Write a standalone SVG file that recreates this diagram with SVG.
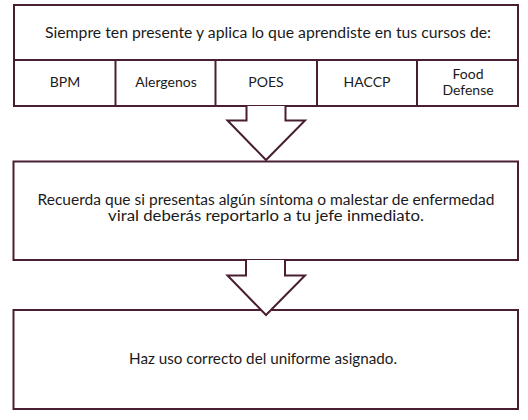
<svg xmlns="http://www.w3.org/2000/svg" width="528" height="420" viewBox="0 0 528 420">
<style>
.box{fill:#ffffff;stroke:#4a1e32;stroke-width:2}
.ln{fill:none;stroke:#4a1e32;stroke-width:2}
.arrow{fill:#ffffff;stroke:#4a1e32;stroke-width:2;stroke-linejoin:miter}
.t{font-family:Lato,"Open Sans","Liberation Sans",sans-serif;fill:#1a1a1a;text-anchor:middle}
.h{font-size:15.5px}
.c{font-size:14px}
.m{font-size:15px}
.m2{font-size:14.5px}
</style>
<rect width="528" height="420" fill="#ffffff"/>
<g id="top-box">
  <rect class="box" x="14" y="5" width="504" height="101"/>
  <line class="ln" x1="14" y1="60" x2="518" y2="60"/>
  <text class="t h" x="268" y="38" textLength="446" lengthAdjust="spacingAndGlyphs">Siempre ten presente y aplica lo que aprendiste en tus cursos de:</text>
</g>
<g id="cell-bpm">
  <line class="ln" x1="115.5" y1="60" x2="115.5" y2="106"/>
  <text class="t c" x="65" y="87">BPM</text>
</g>
<g id="cell-alergenos">
  <line class="ln" x1="215.5" y1="60" x2="215.5" y2="106"/>
  <text class="t c" x="166" y="87">Alergenos</text>
</g>
<g id="cell-poes">
  <line class="ln" x1="317" y1="60" x2="317" y2="106"/>
  <text class="t c" x="266" y="87">POES</text>
</g>
<g id="cell-haccp">
  <line class="ln" x1="417" y1="60" x2="417" y2="106"/>
  <text class="t c" x="367" y="87">HACCP</text>
</g>
<g id="cell-food-defense">
  <text class="t c" x="468" y="79">Food</text>
  <text class="t c" x="468" y="95">Defense</text>
</g>
<g id="middle-box">
  <rect class="box" x="13.5" y="161.5" width="504.5" height="98.5"/>
  <text class="t m2" x="266" y="205" textLength="457" lengthAdjust="spacingAndGlyphs">Recuerda que si presentas algún síntoma o malestar de enfermedad</text>
  <text class="t m2" x="266" y="221" textLength="316" lengthAdjust="spacingAndGlyphs">viral deberás reportarlo a tu jefe inmediato.</text>
</g>
<g id="bottom-box">
  <rect class="box" x="13.5" y="310" width="504.5" height="99"/>
  <text class="t m" x="263" y="364" textLength="268" lengthAdjust="spacingAndGlyphs">Haz uso correcto del uniforme asignado.</text>
</g>
<g id="connectors">
  <path class="arrow" d="M246.5,106 V120.5 H227.5 L266,160 L305,120.5 H285.5 V106"/>
  <path class="arrow" d="M246,260 V275.5 H227.5 L266,315 L305,275.5 H285 V260"/>
</g>
</svg>
